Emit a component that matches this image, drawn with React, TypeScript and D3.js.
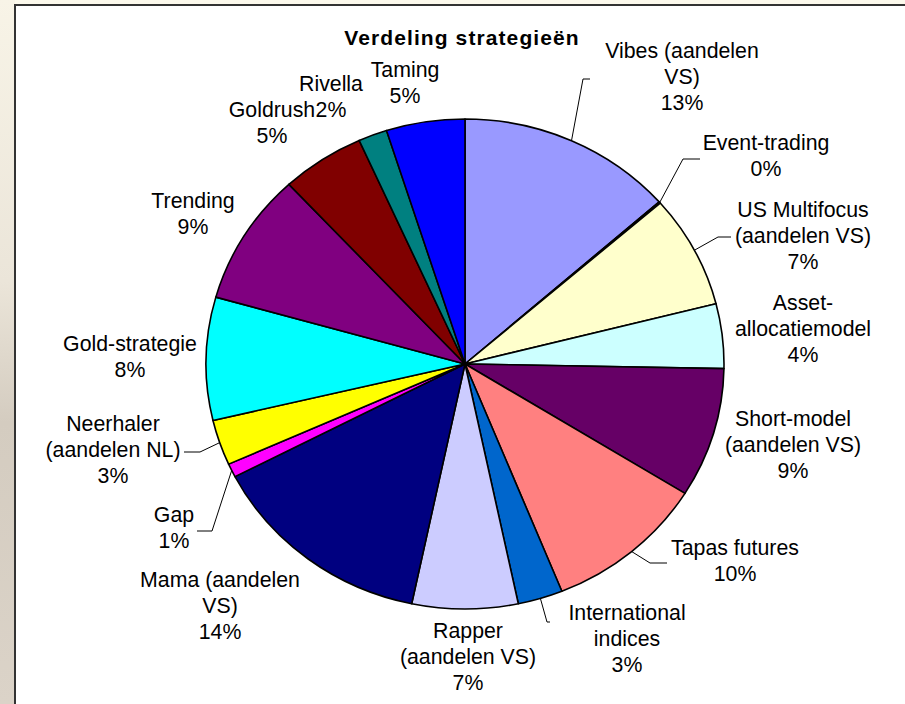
import * as d3 from 'd3'
import React from 'react'

// slices, clockwise from 12 o'clock
const strategies = [
  'Vibes (aandelen VS)',
  'Event-trading',
  'US Multifocus (aandelen VS)',
  'Asset-allocatiemodel',
  'Short-model (aandelen VS)',
  'Tapas futures',
  'International indices',
  'Rapper (aandelen VS)',
  'Mama (aandelen VS)',
  'Gap',
  'Neerhaler (aandelen NL)',
  'Gold-strategie',
  'Trending',
  'Goldrush',
  'Rivella',
  'Taming'
]
const shares = [13.49, 0.1, 7.45, 4.26, 8.55, 10.05, 2.8, 6.6, 14.1, 0.9, 3.0, 8.1, 8.7, 5.2, 1.8, 4.9]
const colors = [
  '#9999ff', '#993366', '#ffffcc', '#ccffff', '#660066', '#ff8080', '#0066cc', '#ccccff',
  '#000080', '#ff00ff', '#ffff00', '#00ffff', '#800080', '#800000', '#008080', '#0000ff'
]
// how Excel wrapped the category names
const nameLines = [
  ['Vibes (aandelen', 'VS)'],
  ['Event-trading'],
  ['US Multifocus', '(aandelen VS)'],
  ['Asset-', 'allocatiemodel'],
  ['Short-model', '(aandelen VS)'],
  ['Tapas futures'],
  ['International', 'indices'],
  ['Rapper', '(aandelen VS)'],
  ['Mama (aandelen', 'VS)'],
  ['Gap'],
  ['Neerhaler', '(aandelen NL)'],
  ['Gold-strategie'],
  ['Trending'],
  ['Goldrush'],
  ['Rivella'],
  ['Taming']
]
const title = 'Verdeling strategieën'

// label layout: centre x, first baseline, leader elbow points (label side first)
const labelLayout: { x: number; y: number; leader?: [number, number][] }[] = [
  { x: 682, y: 58, leader: [[590, 79], [583, 79]] },
  { x: 766, y: 150, leader: [[700, 159], [683, 159]] },
  { x: 803, y: 217, leader: [[731, 237], [718, 237]] },
  { x: 803, y: 310 },
  { x: 793, y: 426 },
  { x: 735, y: 555, leader: [[667, 563], [650, 563]] },
  { x: 627, y: 620, leader: [[550, 622], [547, 622]] },
  { x: 468, y: 638 },
  { x: 220, y: 587 },
  { x: 174, y: 522, leader: [[197, 531], [212, 531]] },
  { x: 113, y: 431, leader: [[184, 452], [200, 452]] },
  { x: 130, y: 351 },
  { x: 193, y: 208 },
  { x: 272, y: 117 },
  { x: 331, y: 91 },
  { x: 405, y: 77 }
]

const W = 905
const H = 704
const cx = 465
const cy = 364
const rx = 259
const ry = 245
const lineH = 25.8
const font = '"Liberation Sans", Arial, sans-serif'

export default function App() {
  const total = d3.sum(shares)
  const pct = d3.format('.0%')
  const arcs = d3
    .pie<number>()
    .sort(null)
    .value(d => d)(shares)
  const arc = d3.arc<d3.PieArcDatum<number>>().innerRadius(0).outerRadius(ry)

  const edgePoint = (a: d3.PieArcDatum<number>): [number, number] => {
    const m = (a.startAngle + a.endAngle) / 2
    return [cx + rx * Math.sin(m), cy - ry * Math.cos(m)]
  }

  return (
    <svg
      width={W}
      height={H}
      style={{ position: 'absolute', left: 0, top: 0 }}
      fontFamily={font}
    >
      <defs>
        <linearGradient id="side" x1="0" y1="0" x2="0" y2="1">
          <stop offset="0" stopColor="#f8f4e7" />
          <stop offset="0.4" stopColor="#ebe5d9" />
          <stop offset="0.6" stopColor="#d4ccc0" />
          <stop offset="1" stopColor="#dbd3c8" />
        </linearGradient>
      </defs>
      <rect x={0} y={0} width={W} height={H} fill="#fcf9ec" />
      <rect x={0} y={0} width={15} height={H} fill="url(#side)" />
      <rect x={15} y={5} width={W - 15} height={H - 5} fill="#fff" />
      <path d={`M15,${H}V5H${W}`} fill="none" stroke="#333" strokeWidth={2} />

      <g transform={`translate(${cx},${cy}) scale(${rx / ry},1)`}>
        {arcs.map((a, i) => (
          <path
            key={strategies[i]}
            d={arc(a) || ''}
            fill={colors[i]}
            stroke="#000"
            strokeWidth={1.6}
            vectorEffect="non-scaling-stroke"
            strokeLinejoin="round"
          />
        ))}
      </g>

      {arcs.map((a, i) => {
        const lay = labelLayout[i]
        if (!lay.leader) return null
        const pts = [...lay.leader, edgePoint(a)]
        return (
          <path
            key={'l' + i}
            d={d3.line()(pts) || ''}
            fill="none"
            stroke="#000"
            strokeWidth={1}
          />
        )
      })}

      <text
        x={462}
        y={45}
        textAnchor="middle"
        fontSize={21}
        fontWeight="bold"
        letterSpacing={1.1}
        fill="#000"
      >
        {title}
      </text>

      {arcs.map((a, i) => {
        const lay = labelLayout[i]
        const lines = [...nameLines[i], pct(a.value / total)]
        return (
          <text key={'t' + i} textAnchor="middle" fontSize={21.3} fill="#000">
            {lines.map((s, j) => (
              <tspan key={j} x={lay.x} y={lay.y + j * lineH}>
                {s}
              </tspan>
            ))}
          </text>
        )
      })}
    </svg>
  )
}
